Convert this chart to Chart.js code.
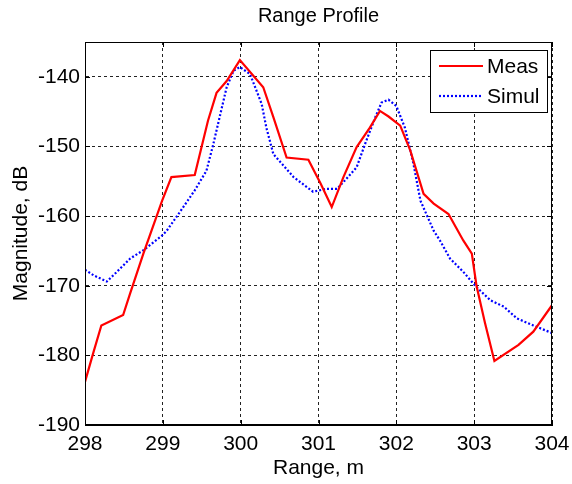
<!DOCTYPE html>
<html lang="en">

<head>
    <meta charset="UTF-8">
    <title>Range Profile</title>
    <script src="https://cdn.jsdelivr.net/npm/chart.js"></script>
    <style>
        body { margin: 0; background: #fff; }
        #wrap { width: 572px; height: 484px; position: relative; }
    </style>
</head>

<body>
    <div id="wrap">
        <canvas id="chartCanvas"></canvas>
    </div>

    <script>
        // values
        const measRange = [298.0, 298.11, 298.21, 298.49, 298.58, 298.75, 298.99, 299.11, 299.41, 299.58, 299.69, 299.82, 299.99,
            300.29, 300.42, 300.59, 300.87, 301.03, 301.17, 301.32, 301.49, 301.66, 301.79, 301.90, 302.05, 302.18, 302.35,
            302.48, 302.67, 302.86, 302.97, 303.03, 303.14, 303.26, 303.57, 303.76, 304.0];
        const measDb = [-183.8, -179.5, -175.7, -174.2, -171.1, -165.4, -157.8, -154.4, -154.1, -146.3, -142.3, -140.6, -137.6,
            -141.5, -145.8, -151.6, -151.9, -155.4, -158.7, -154.4, -150.1, -147.3, -144.9, -145.7, -147.0, -150.6, -156.8,
            -158.2, -159.7, -163.5, -165.4, -170.0, -175.4, -180.8, -178.5, -176.6, -172.8];

        const simRange = [298.0, 298.11, 298.28, 298.41, 298.58, 298.75, 298.99, 299.05, 299.22, 299.41, 299.56, 299.65, 299.74,
            299.82, 299.91, 299.99, 300.12, 300.27, 300.33, 300.42, 300.68, 300.93, 301.1, 301.24, 301.49, 301.6, 301.73,
            301.81, 301.9, 302.0, 302.11, 302.22, 302.31, 302.48, 302.56, 302.69, 302.86, 303.03, 303.21, 303.38, 303.55,
            303.76, 304.0];
        const simDb = [-167.7, -168.5, -169.4, -168.0, -166.1, -164.9, -162.8, -162.1, -159.4, -156.3, -153.5, -149.6, -145.3,
            -141.5, -139.1, -138.6, -139.6, -143.9, -147.3, -151.1, -154.4, -156.5, -156.1, -156.1, -153.0, -149.6, -145.8,
            -143.7, -143.3, -144.2, -147.3, -152.5, -157.8, -162.1, -163.5, -166.1, -168.0, -170.2, -172.1, -173.0, -174.7,
            -175.7, -176.8];

        const seriesNames = ["Meas", "Simul"];
        const xTicks = [298, 299, 300, 301, 302, 303, 304];
        const yTicks = [-190, -180, -170, -160, -150, -140];

        const FONT = "'Liberation Sans', Arial, sans-serif";

        const toPoints = (xs, ys) => xs.map((x, i) => ({ x: x, y: ys[i] }));

        // title centred over the plot box, as matlab does it
        const plotTitle = {
            id: "plotTitle",
            afterDraw(chart) {
                const { ctx, chartArea: a } = chart;
                ctx.save();
                ctx.fillStyle = "#000";
                ctx.font = "20px " + FONT;
                ctx.textAlign = "center";
                ctx.textBaseline = "middle";
                ctx.fillText("Range Profile", (a.left + a.right) / 2, 16);
                ctx.restore();
            }
        };

        // box around the plot with small inward ticks
        const framePlugin = {
            id: "frame",
            afterDatasetsDraw(chart) {
                const { ctx, chartArea: a, scales } = chart;
                ctx.save();
                ctx.strokeStyle = "#000";
                ctx.lineWidth = 1;
                ctx.setLineDash([]);
                ctx.strokeRect(a.left + 0.5, a.top + 0.5, a.width - 1, a.height - 1);
                ctx.beginPath();
                xTicks.forEach(v => {
                    const px = Math.round(scales.x.getPixelForValue(v)) + 0.5;
                    ctx.moveTo(px, a.bottom); ctx.lineTo(px, a.bottom - 5);
                    ctx.moveTo(px, a.top); ctx.lineTo(px, a.top + 5);
                });
                yTicks.forEach(v => {
                    const py = Math.round(scales.y.getPixelForValue(v)) + 0.5;
                    ctx.moveTo(a.left, py); ctx.lineTo(a.left + 5, py);
                    ctx.moveTo(a.right, py); ctx.lineTo(a.right - 5, py);
                });
                ctx.stroke();
                ctx.restore();
            }
        };

        // legend inside the upper right corner
        const boxLegend = {
            id: "boxLegend",
            afterDraw(chart) {
                const { ctx, chartArea: a } = chart;
                const w = 117, h = 62;
                const left = a.right - 5 - w, top = a.top + 8;
                ctx.save();
                ctx.fillStyle = "#fff";
                ctx.fillRect(left, top, w, h);
                ctx.strokeStyle = "#000";
                ctx.lineWidth = 1;
                ctx.setLineDash([]);
                ctx.strokeRect(left + 0.5, top + 0.5, w, h);
                chart.data.datasets.forEach((ds, i) => {
                    const y = top + 16 + i * 30;
                    ctx.beginPath();
                    ctx.strokeStyle = ds.borderColor;
                    ctx.lineWidth = ds.borderWidth;
                    ctx.setLineDash(ds.borderDash || []);
                    ctx.moveTo(left + 9, y);
                    ctx.lineTo(left + 53, y);
                    ctx.stroke();
                    ctx.setLineDash([]);
                    ctx.fillStyle = "#000";
                    ctx.font = "21px " + FONT;
                    ctx.textBaseline = "middle";
                    ctx.fillText(ds.label, left + 57, y + 1);
                });
                ctx.restore();
            }
        };

        const ctx = document.getElementById("chartCanvas").getContext("2d");
        new Chart(ctx, {
            type: "line",
            data: {
                datasets: [{
                    label: seriesNames[0],
                    data: toPoints(measRange, measDb),
                    borderColor: "#ff0000",
                    borderWidth: 2.2,
                    pointRadius: 0,
                    tension: 0
                }, {
                    label: seriesNames[1],
                    data: toPoints(simRange, simDb),
                    borderColor: "#0000ff",
                    borderWidth: 2.2,
                    borderDash: [2, 2],
                    pointRadius: 0,
                    tension: 0
                }]
            },
            options: {
                responsive: true,
                maintainAspectRatio: false,
                animation: false,
                layout: { padding: { left: 0, right: 20, top: 42, bottom: 0 } },
                plugins: {
                    legend: { display: false },
                    tooltip: { enabled: false },
                    title: { display: false }
                },
                scales: {
                    x: {
                        type: "linear",
                        min: 298,
                        max: 304,
                        afterBuildTicks: axis => { axis.ticks = xTicks.map(v => ({ value: v })); },
                        afterFit: axis => {
                            axis.height = 59;
                            axis.paddingLeft = 0;
                            axis.paddingRight = 0;
                        },
                        ticks: {
                            color: "#000",
                            font: { family: FONT, size: 21 },
                            padding: 7,
                            maxRotation: 0
                        },
                        grid: { color: "#222", drawTicks: false },
                        border: { display: true, color: "#000", dash: [3, 3] },
                        title: {
                            display: true,
                            text: "Range, m",
                            color: "#000",
                            font: { family: FONT, size: 21 },
                            padding: { top: 0, bottom: 3 }
                        }
                    },
                    y: {
                        min: -190,
                        max: -135,
                        afterBuildTicks: axis => { axis.ticks = yTicks.map(v => ({ value: v })); },
                        afterFit: axis => {
                            axis.width = 85;
                            axis.paddingTop = 0;
                            axis.paddingBottom = 0;
                        },
                        ticks: {
                            color: "#000",
                            font: { family: FONT, size: 21 },
                            padding: 5,
                            callback: v => String(v).replace("\u2212", "-")
                        },
                        grid: { color: "#222", drawTicks: false },
                        border: { display: true, color: "#000", dash: [3, 3] },
                        title: {
                            display: true,
                            text: "Magnitude, dB",
                            color: "#000",
                            font: { family: FONT, size: 21 },
                            padding: { top: 9, bottom: 0 }
                        }
                    }
                }
            },
            plugins: [framePlugin, boxLegend, plotTitle]
        });
    </script>
</body>

</html>
